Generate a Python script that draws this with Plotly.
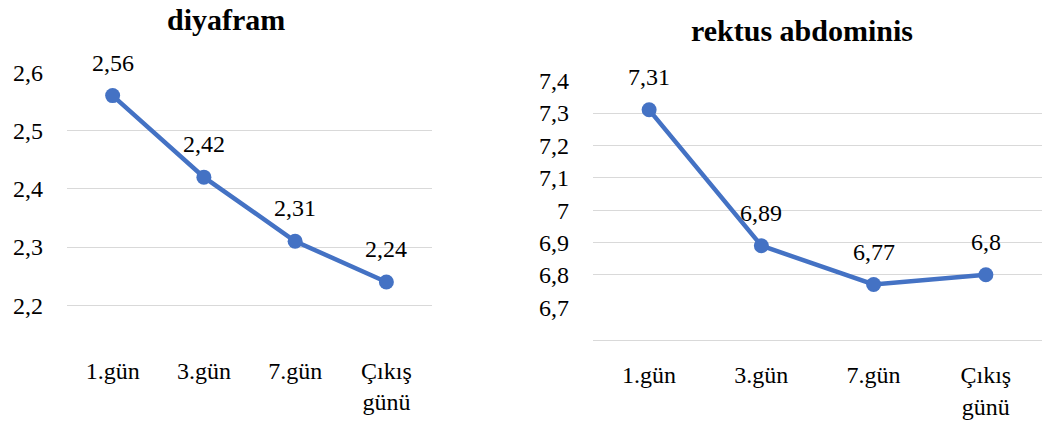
import plotly.graph_objects as go

categories = ["1.gün", "3.gün", "7.gün", "Çıkış<br>günü"]
diyafram = [2.56, 2.42, 2.31, 2.24]
rektus = [7.31, 6.89, 6.77, 6.80]
diyafram_labels = ["2,56", "2,42", "2,31", "2,24"]
rektus_labels = ["7,31", "6,89", "6,77", "6,8"]
y1_ticks = [2.2, 2.3, 2.4, 2.5, 2.6]
y1_ticktext = ["2,2", "2,3", "2,4", "2,5", "2,6"]
y2_ticks = [6.7, 6.8, 6.9, 7.0, 7.1, 7.2, 7.3, 7.4]
y2_ticktext = ["6,7", "6,8", "6,9", "7", "7,1", "7,2", "7,3", "7,4"]
y2_grid = [6.8, 6.9, 7.0, 7.1, 7.2, 7.3, 7.4]
titles = ["diyafram", "rektus abdominis"]

BLUE = "#4472C4"
GRID = "#d9d9d9"
FONT = "Liberation Serif"
W, H = 1055, 421

fig = go.Figure()
for vals, xa, ya in [(diyafram, "x", "y"), (rektus, "x2", "y2")]:
    fig.add_trace(go.Scatter(
        x=categories, y=vals, mode="lines+markers", xaxis=xa, yaxis=ya,
        line=dict(color=BLUE, width=4.5), marker=dict(color=BLUE, size=15),
        cliponaxis=False, showlegend=False, hoverinfo="skip"))

annotations = []
for vals, labs, xa, ya in [(diyafram, diyafram_labels, "x", "y"), (rektus, rektus_labels, "x2", "y2")]:
    for c, v, t in zip(categories, vals, labs):
        annotations.append(dict(x=c, y=v, xref=xa, yref=ya, text=t, showarrow=False,
                                yanchor="middle", xanchor="center", yshift=33,
                                font=dict(family=FONT, size=24, color="#000000")))

annotations.append(dict(x=226 / W, y=1 - 19.5 / H, xref="paper", yref="paper", text="<b>%s</b>" % titles[0],
                        showarrow=False, xanchor="center", yanchor="middle",
                        font=dict(family=FONT, size=30, color="#000000")))
annotations.append(dict(x=802 / W, y=1 - 30.2 / H, xref="paper", yref="paper", text="<b>%s</b>" % titles[1],
                        showarrow=False, xanchor="center", yanchor="middle",
                        font=dict(family=FONT, size=30, color="#000000")))

tickfont = dict(family=FONT, size=24, color="#000000")
bottom = 339.5

fig.update_layout(
    width=W, height=H, margin=dict(l=0, r=0, t=0, b=0, autoexpand=False),
    paper_bgcolor="white", plot_bgcolor="white",
    font=dict(family=FONT, size=24, color="#000000"),
    annotations=annotations,
    xaxis=dict(domain=[67 / W, 432 / W], range=[-0.5, 3.5], showgrid=False, showline=False,
               zeroline=False, ticks="", tickfont=tickfont, ticklabelstandoff=14, anchor="y",
               automargin=False),
    yaxis=dict(domain=[1 - bottom / H, 1 - 72.3 / H], range=[2.6 - (bottom - 72.3) / 582.5, 2.6],
               tickmode="array", tickvals=y1_ticks, ticktext=y1_ticktext, showgrid=True,
               gridcolor=GRID, gridwidth=1.3, zeroline=False, showline=False, ticks="",
               tickfont=tickfont, ticklabelstandoff=23, anchor="x", automargin=False),
    xaxis2=dict(domain=[593 / W, 1042 / W], range=[-0.5, 3.5], showgrid=False, showline=True,
                linecolor=GRID, linewidth=1.3, zeroline=False, ticks="", tickfont=tickfont,
                ticklabelstandoff=14, anchor="y2", automargin=False),
    yaxis2=dict(domain=[1 - bottom / H, 1 - 80.7 / H], range=[6.6, 7.4],
                tickmode="array", tickvals=y2_ticks, ticktext=y2_ticktext, showgrid=False,
                minor=dict(tickmode="array", tickvals=y2_grid, showgrid=True, gridcolor=GRID,
                           gridwidth=1.3, ticks=""),
                zeroline=False, showline=False, ticks="", tickfont=tickfont,
                ticklabelstandoff=23, anchor="x2", automargin=False),
)

fig.write_html("out.html")
